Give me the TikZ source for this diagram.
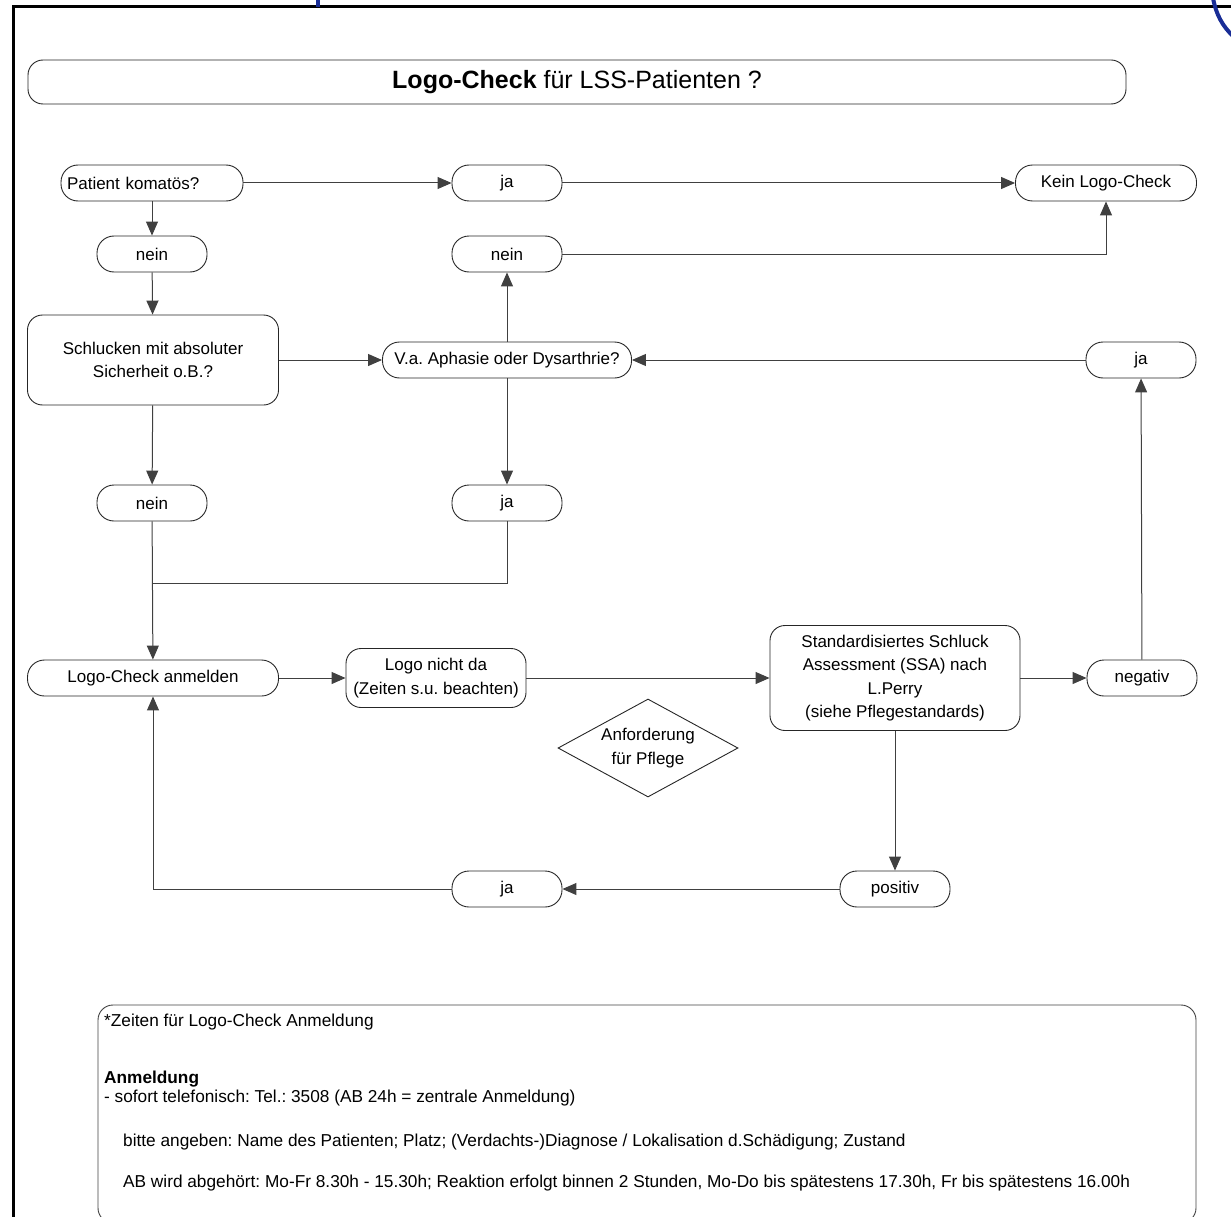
\documentclass[tikz,border=0pt]{standalone}
\usepackage{fontspec}
\setmainfont{Liberation Sans}
\usetikzlibrary{arrows.meta,shapes.geometric}
\definecolor{logoblue}{RGB}{25,45,150}
\frenchspacing

\begin{document}
\begin{tikzpicture}[x=1pt,y=-1pt,
    box/.style={draw=black!85, line width=0.9pt, rounded corners=15pt, align=center,
      inner sep=3pt, font=\fontsize{17}{23.5}\selectfont},
    pill/.style={box, rounded corners=17pt, minimum height=36pt, minimum width=110pt},
    link/.style={draw=black!75, line width=1pt},
    arr/.style={link, -{Triangle[length=14pt,width=12pt]}},
    note/.style={anchor=west, inner sep=0pt, font=\fontsize{17.25}{20}\selectfont}]
    \useasboundingbox (0,0) rectangle (1231,1217);
    % frame and cut logo
    \draw[line width=3.3pt] (13.3,1230) -- (13.3,6.7) -- (1240,6.7);
    \draw[logoblue, line width=3.5pt] (318,-2) -- (318,7);
    \draw[logoblue, line width=4pt] (1213,-2) .. controls (1216,14) and (1222,26) .. (1234,37);

    \node[box, minimum width=1098pt, minimum height=44pt, font=\fontsize{25}{30}\selectfont] (title) at (577,82)
        {\textbf{Logo-Check} für LSS-Patienten ?};

    \node[pill, text width=170pt, align=left, inner sep=6pt] (koma) at (152,183) {Patient komatös?};
    \node[pill] (ja1) at (507,183) {ja};
    \node[pill, minimum width=181pt] (kein) at (1106,183) {Kein Logo-Check};
    \node[pill] (nein1) at (152,254) {nein};
    \node[pill] (nein2) at (507,254) {nein};
    \node[box, minimum width=251pt, minimum height=90pt] (schluck) at (153,360) {Schlucken mit absoluter\\Sicherheit o.B.?};
    \node[pill, minimum width=249pt] (aphasie) at (507,360) {V.a. Aphasie oder Dysarthrie?};
    \node[pill] (ja2) at (1141,360) {ja};
    \node[pill] (nein3) at (152,503) {nein};
    \node[pill] (ja3) at (507,503) {ja};
    \coordinate (merge) at (152,583);
    \node[pill, minimum width=251pt] (anmelden) at (153,678) {Logo-Check anmelden};
    \node[box, minimum width=180pt, minimum height=59pt] (nichtda) at (436,678) {Logo nicht da\\(Zeiten s.u. beachten)};
    \node[box, minimum width=250pt, minimum height=105pt] (ssa) at (895,678)
        {Standardisiertes Schluck\\Assessment (SSA) nach\\L.Perry\\(siehe Pflegestandards)};
    \node[pill] (negativ) at (1142,678) {negativ};
    \node[diamond, draw=black!85, line width=0.9pt, aspect=1.8, inner sep=1pt, minimum width=180pt,
        minimum height=98pt, align=center, font=\fontsize{17}{23.5}\selectfont] (pflege) at (648,748) {Anforderung\\für Pflege};
    \node[pill] (positiv) at (895,889) {positiv};
    \node[pill] (ja4) at (507,889) {ja};

    \draw[arr] (koma) -- (ja1);
    \draw[arr] (ja1) -- (kein);
    \draw[arr] (koma) -- (nein1);
    \draw[arr] (nein1) -- (schluck);
    \draw[arr] (nein2) -| (kein);
    \draw[arr] (schluck) -- (aphasie);
    \draw[arr] (aphasie) -- (nein2);
    \draw[arr] (ja2) -- (aphasie);
    \draw[arr] (aphasie) -- (ja3);
    \draw[arr] (schluck) -- (nein3);
    \draw[arr] (nein3) -- (anmelden);
    \draw[link] (ja3) |- (merge);
    \draw[arr] (anmelden) -- (nichtda);
    \draw[arr] (nichtda) -- (ssa);
    \draw[arr] (ssa) -- (negativ);
    \draw[arr] (negativ) -- (ja2);
    \draw[arr] (ssa) -- (positiv);
    \draw[arr] (positiv) -- (ja4);
    \draw[arr] (ja4) -| (anmelden);

    % Zeiten
    \draw[draw=black!75, line width=0.9pt, rounded corners=15pt] (98,1005) rectangle (1196,1223);
    \node[note] (zeiten) at (104,1022) {*Zeiten für Logo-Check Anmeldung};
    \node[note] (anm) at (104,1079) {\textbf{Anmeldung}};
    \node[note] (tel) at (104,1098) {- sofort telefonisch: Tel.: 3508 (AB 24h = zentrale Anmeldung)};
    \node[note] (angeben) at (123,1142) {bitte angeben: Name des Patienten; Platz; (Verdachts-)Diagnose / Lokalisation d.Schädigung; Zustand};
    \node[note] (ab) at (123,1183) {AB wird abgehört: Mo-Fr 8.30h - 15.30h; Reaktion erfolgt binnen 2 Stunden, Mo-Do bis spätestens 17.30h, Fr bis spätestens 16.00h};
\end{tikzpicture}
\end{document}
